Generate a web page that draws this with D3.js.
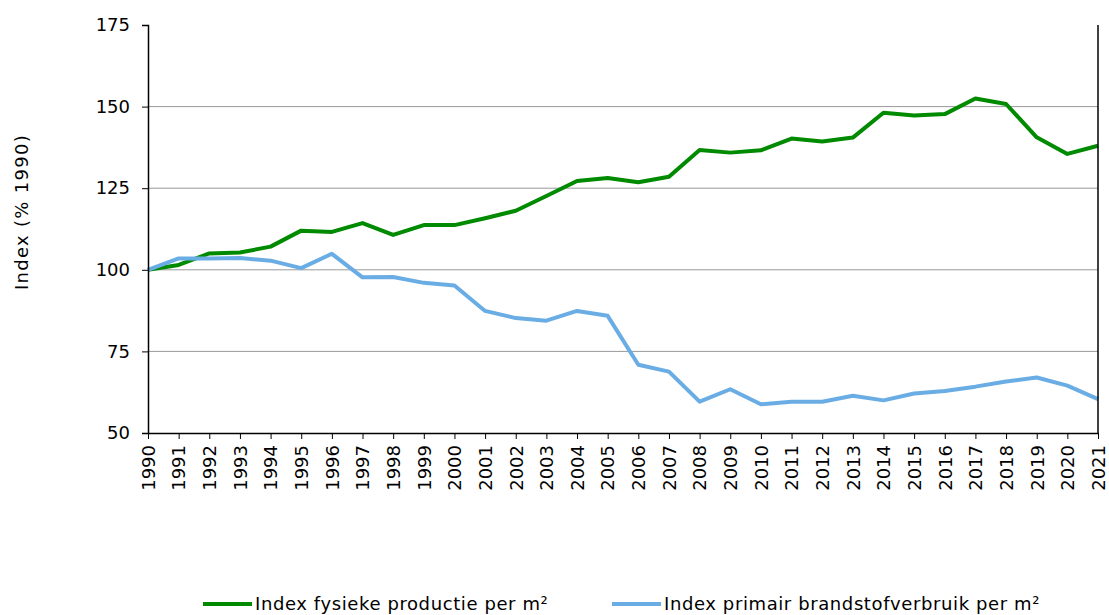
<!DOCTYPE html>
<html>
<head>
<meta charset="utf-8">
<script src="https://cdn.jsdelivr.net/npm/d3@7"></script>
<style>
  body { margin: 0; background: #fff; }
  svg text { font-family: "DejaVu Sans", Verdana, sans-serif; fill: #000; }
</style>
</head>
<body>
<svg id="chart" width="1109" height="615"></svg>
<script>
// years 1990..2021
const years = d3.range(1990, 2022);
const productie = [100, 101.5, 105, 105.3, 107.1, 112, 111.6, 114.3, 110.7, 113.7, 113.7,
  115.8, 118.1, 122.6, 127.2, 128.1, 126.8, 128.5, 136.7, 135.9, 136.6, 140.2, 139.3,
  140.5, 148.1, 147.3, 147.7, 152.5, 150.8, 140.6, 135.5, 138];
const brandstof = [100, 103.5, 103.5, 103.6, 102.8, 100.5, 104.9, 97.7, 97.8, 96, 95.2,
  87.4, 85.2, 84.4, 87.4, 85.9, 70.9, 68.8, 59.6, 63.4, 58.8, 59.6, 59.6,
  61.4, 60, 62.1, 62.9, 64.2, 65.8, 67, 64.5, 60.4];
const yTicks = [50, 75, 100, 125, 150, 175];
const series = [
  { name: 'Index fysieke productie per m²', values: productie, color: '#008a00' },
  { name: 'Index primair brandstofverbruik per m²', values: brandstof, color: '#6aade4' }
];

const FONT = '"DejaVu Sans", Verdana, sans-serif';
const svg = d3.select('#chart');
const x = d3.scaleLinear().domain([1990, 2021]).range([148, 1098]);
const y = d3.scaleLinear().domain([50, 175]).range([433, 25]);

// gridlines
svg.append('g').selectAll('line').data(yTicks.filter(t => t > 50 && t < 175)).join('line')
  .attr('x1', 148).attr('x2', 1098)
  .attr('y1', d => y(d)).attr('y2', d => y(d))
  .attr('stroke', '#999').attr('stroke-width', 1);

// lines
const line = d3.line().x((d, i) => x(years[i])).y(d => y(d));
series.forEach(s => {
  svg.append('path').attr('d', line(s.values))
    .attr('fill', 'none').attr('stroke', s.color)
    .attr('stroke-width', 4).attr('stroke-linejoin', 'round');
});

// y axis
const yAxis = svg.append('g').attr('transform', 'translate(148,0)')
  .call(d3.axisLeft(y).tickValues(yTicks).tickSize(6).tickPadding(12));
yAxis.select('.domain').attr('stroke', '#000').attr('stroke-width', 1.5);
yAxis.selectAll('.tick line').attr('stroke', '#000');
yAxis.selectAll('text').attr('font-size', 18).attr('font-family', FONT);

// right border
svg.append('line').attr('x1', 1098).attr('x2', 1098).attr('y1', 25).attr('y2', 433)
  .attr('stroke', '#000').attr('stroke-width', 1.5);

// x axis
const xAxis = svg.append('g').attr('transform', 'translate(0,433)')
  .call(d3.axisBottom(x).tickValues(years).tickFormat(d3.format('d')).tickSize(6).tickSizeOuter(0));
xAxis.select('.domain').attr('stroke', '#000').attr('stroke-width', 1.5);
xAxis.selectAll('.tick line').attr('stroke', '#000');
xAxis.selectAll('text')
  .attr('font-size', 18).attr('font-family', FONT)
  .attr('transform', 'rotate(-90)')
  .attr('text-anchor', 'end')
  .attr('x', -12).attr('y', 0).attr('dy', '0.35em');

// y title
svg.append('text')
  .attr('transform', 'translate(28,212) rotate(-90)')
  .attr('text-anchor', 'middle')
  .attr('font-size', 18)
  .attr('letter-spacing', 1.3)
  .text('Index (% 1990)');

// legend
const legendX = [203, 612];
series.forEach((s, i) => {
  const g = svg.append('g').attr('transform', `translate(${legendX[i]},604)`);
  g.append('line').attr('x1', 0).attr('x2', 49).attr('y1', 0).attr('y2', 0)
    .attr('stroke', s.color).attr('stroke-width', 4);
  g.append('text').attr('x', 52).attr('y', 0).attr('dy', '0.35em')
    .attr('font-size', 18).attr('letter-spacing', 0.6).text(s.name);
});
</script>
</body>
</html>
